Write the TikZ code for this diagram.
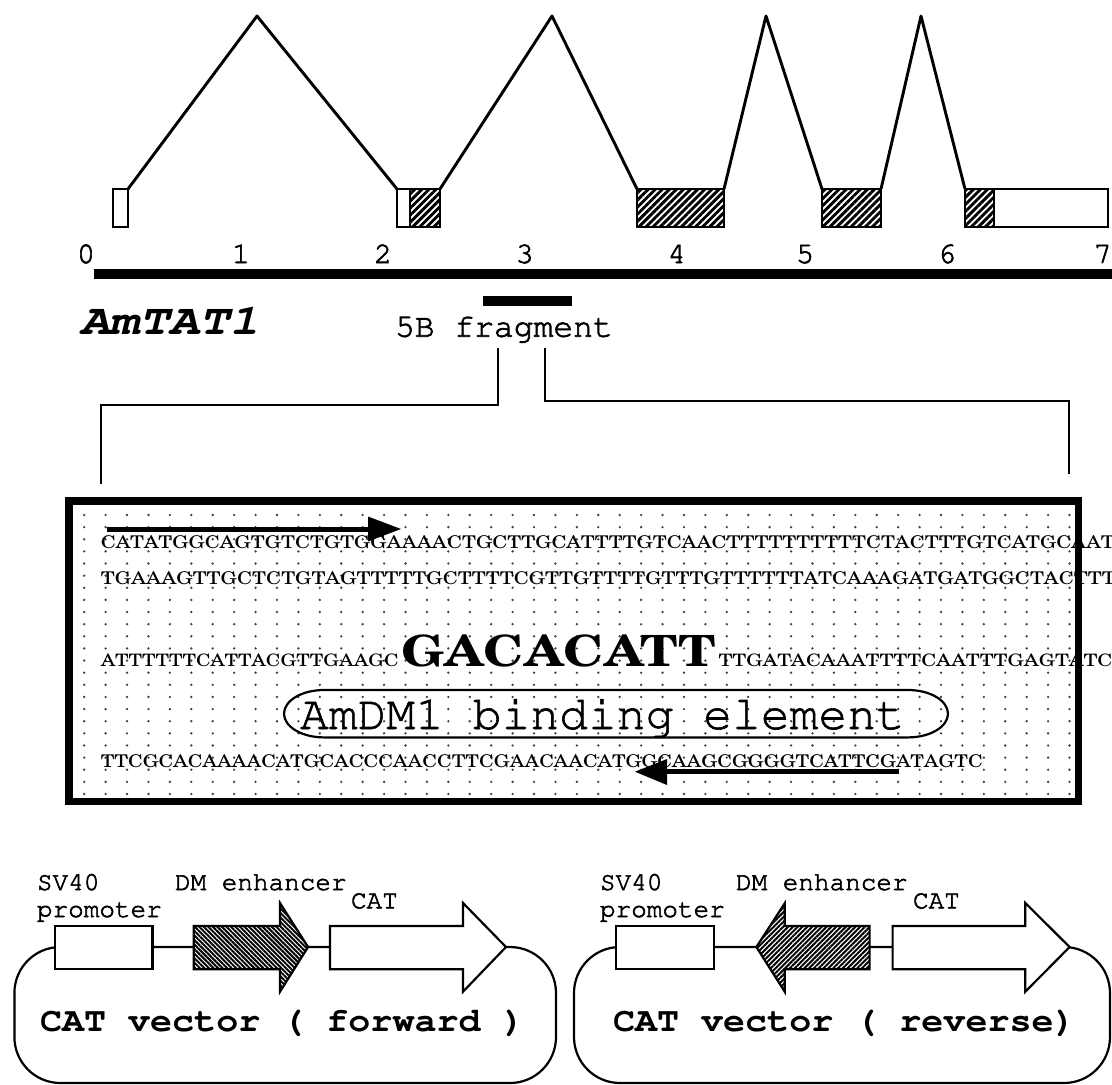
\documentclass[tikz,border=0pt]{standalone}
\usepackage[T1]{fontenc}
\usepackage{fontspec}
\usepackage{graphicx}
\newcommand\courf[1]{\fontencoding{T1}\fontfamily{pcr}\fontsize{#1}{#1}\selectfont}
\newcommand\schlf{\fontencoding{T1}\fontfamily{pnc}\fontsize{20}{20}\selectfont}
\newcommand\heavy[2]{\special{pdf:literal direct #1 w 2 Tr}#2\special{pdf:literal direct 0 Tr}}
\usetikzlibrary{patterns.meta}
\tikzset{
  exonw/.style={draw=black, line width=2pt, fill=white},
  exonh/.style={draw=black, line width=2pt, pattern={Lines[angle=45,distance=5pt,line width=2.9pt]}},
  intron/.style={line width=2.9pt, line join=round},
  bracket/.style={line width=1.7pt},
  dotc/.style={fill=black!75},
  txt/.style={inner sep=0pt, outer sep=0pt},
  vecshape/.style={draw=black, line width=2.2pt, line join=miter},
  fwdhatch/.style={vecshape, pattern={Lines[angle=-45,distance=3.2pt,line width=2.0pt]}},
  revhatch/.style={vecshape, pattern={Lines[angle=45,distance=3.4pt,line width=2.0pt]}},
}
\begin{document}
\begin{tikzpicture}[x=1pt,y=-1pt]
\useasboundingbox (0,0) rectangle (1112,1085);

% ---------- gene structure ----------
\draw[intron] (128,189) -- (257,16) -- (397,189);
\draw[intron] (440,189) -- (552,16) -- (637,189);
\draw[intron] (724,189) -- (766,16) -- (822,189);
\draw[intron] (881,189) -- (921,16) -- (965,189);

\draw[exonw] (113,189) rectangle (128,227);
\draw[exonw] (397,189) rectangle (410,227);
\draw[exonh] (410,189) rectangle (440,227);
\draw[exonh] (637,189) rectangle (724,227);
\draw[exonh] (822,189) rectangle (881,227);
\draw[exonh] (965,189) rectangle (994,227);
\draw[exonw] (994,189) rectangle (1108,227);

% scale
\begin{scope}[every node/.style={txt, anchor=base, font=\courf{30}}]
\node (t0) at (86,263) {\heavy{0.7}{0}};
\node (t1) at (241,263) {\heavy{0.7}{1}};
\node (t2) at (383,263) {\heavy{0.7}{2}};
\node (t3) at (524.7,263) {\heavy{0.7}{3}};
\node (t4) at (676.7,263) {\heavy{0.7}{4}};
\node (t5) at (805,263) {\heavy{0.7}{5}};
\node (t6) at (947,263) {\heavy{0.7}{6}};
\node (t7) at (1102.6,263) {\heavy{0.7}{7}};
\end{scope}
\fill (94,269) rectangle (1112,279);

\node[txt, anchor=base west, font={\courf{43}\fontseries{b}\fontshape{sl}\selectfont}] (gene) at (80,334) {\scalebox{1.16}[1]{AmTAT1}};

\fill (483,296) rectangle (572,306);
\node[txt, anchor=base west, font=\courf{33}] (frag) at (395,336.7) {\heavy{0.7}{5B fragment}};

% brackets
\coordinate (bl0) at (498,348);
\coordinate (bl1) at (498,405);
\coordinate (bl2) at (101,405);
\coordinate (bl3) at (101,484);
\coordinate (br0) at (545,348);
\coordinate (br1) at (545,401);
\coordinate (br2) at (1069,401);
\coordinate (br3) at (1069,474);
\draw[bracket] (bl0) -- (bl1) -- (bl2) -- (bl3);
\draw[bracket] (br0) -- (br1) -- (br2) -- (br3);

% ---------- sequence box ----------
\foreach \i in {0,...,46}{
  \foreach \j in {0,...,23}{
    \fill[dotc] (84.2+\i*21.42, 515+\j*12.13) circle (1.3);
  }
}

\node[txt, anchor=base west] (l1) at (100.8,548.5) {\resizebox{1014pt}{12.8pt}{\schlf CATATGGCAGTGTCTGTGGAAAACTGCTTGCATTTTGTCAACTTTTTTTTTTCTACTTTGTCATGCAAT}};
\node[txt, anchor=base west] (l2) at (100.8,584.5) {\resizebox{1029pt}{12.8pt}{\schlf TGAAAGTTGCTCTGTAGTTTTTGCTTTTCGTTGTTTTGTTTGTTTTTTATCAAAGATGATGGCTACTTTT}};
\node[txt, anchor=base west] (l3a) at (100.8,666) {\resizebox{298pt}{12.5pt}{\schlf ATTTTTTCATTACGTTGAAGC}};
\node[txt, anchor=base west] (l3b) at (401,666.5) {\resizebox{315pt}{31pt}{\schlf\bfseries GACACATT}};
\node[txt, anchor=base west] (l3c) at (718.5,666) {\resizebox{394pt}{12.5pt}{\schlf TTGATACAAATTTTCAATTTGAGTATC}};
\node[txt, anchor=base west] (l5) at (100.8,767) {\resizebox{882pt}{12.8pt}{\schlf TTCGCACAAAACATGCACCCAACCTTCGAACAACATGGCAAGCGGGGTCATTCGATAGTC}};

% binding element
\draw[line width=2.2pt] (324,690) -- (908,690) arc[start angle=-90,end angle=90,x radius=40,y radius=23.7]
  -- (324,737.4) arc[start angle=90,end angle=270,x radius=40,y radius=23.7] -- cycle;
\node[txt, anchor=base west, font=\courf{48}] (elem) at (300,729) {\heavy{0.6}{AmDM1 binding element}};

% primers
\coordinate (p1s) at (106.7,529);
\coordinate (p1h) at (368,529);
\draw[line width=5pt] (p1s) -- (p1h);
\fill (368,516.5) -- (401,529) -- (368,541.5) -- cycle;
\coordinate (p2s) at (899,771.7);
\coordinate (p2h) at (666,771.7);
\draw[line width=5pt] (p2s) -- (p2h);
\fill (667,759) -- (635,771.7) -- (667,785) -- cycle;

\draw[line width=7.5pt] (69,501) rectangle (1078.5,801.5);

% ---------- CAT vectors ----------
\draw[vecshape, rounded corners=46pt] (14.4,947) rectangle (556,1083);
\draw[vecshape, rounded corners=46pt] (574,947) rectangle (1110,1083);

% forward
\filldraw[vecshape, fill=white] (54.6,926) rectangle (152.5,969.3);
\fill[white] (193.8,926) -- (280,926) -- (280,903) -- (308,947) -- (280,991.7) -- (280,969.3) -- (193.8,969.3) -- cycle;
\draw[fwdhatch] (193.8,926) -- (280,926) -- (280,903) -- (308,947) -- (280,991.7) -- (280,969.3) -- (193.8,969.3) -- cycle;
\filldraw[vecshape, fill=white] (330,926) -- (463,926) -- (463,903) -- (506,947) -- (463,991.7) -- (463,969.3) -- (330,969.3) -- cycle;

% reverse
\filldraw[vecshape, fill=white] (616,926) rectangle (714,969.3);
\fill[white] (869.6,926) -- (784.7,926) -- (784.7,903.3) -- (756.4,947) -- (784.7,991.7) -- (784.7,969.3) -- (869.6,969.3) -- cycle;
\draw[revhatch] (869.6,926) -- (784.7,926) -- (784.7,903.3) -- (756.4,947) -- (784.7,991.7) -- (784.7,969.3) -- (869.6,969.3) -- cycle;
\filldraw[vecshape, fill=white] (892.6,926) -- (1025.3,926) -- (1025.3,903) -- (1069.6,947) -- (1025.3,991.7) -- (1025.3,969.3) -- (892.6,969.3) -- cycle;

\begin{scope}[every node/.style={txt, anchor=base west, font=\courf{26}}]
\node (sv1) at (37,890) {\heavy{0.6}{SV40}};
\node (pr1) at (37,917) {\heavy{0.6}{promoter}};
\node (dm1) at (175,890) {\heavy{0.6}{DM enhancer}};
\node (cat1) at (351,908.3) {\heavy{0.6}{CAT}};
\node (sv2) at (600,890) {\heavy{0.6}{SV40}};
\node (pr2) at (600,917) {\heavy{0.6}{promoter}};
\node (dm2) at (736,890) {\heavy{0.6}{DM enhancer}};
\node (cat2) at (913,908.3) {\heavy{0.6}{CAT}};
\end{scope}

\node[txt, anchor=base west, font={\courf{34}\bfseries}] (v1) at (40,1031.7) {\scalebox{1.08}[1]{CAT vector ( forward )}};
\node[txt, anchor=base west, font={\courf{34}\bfseries}] (v2) at (613,1031.7) {\scalebox{1.08}[1]{CAT vector ( reverse)}};
\end{tikzpicture}
\end{document}
